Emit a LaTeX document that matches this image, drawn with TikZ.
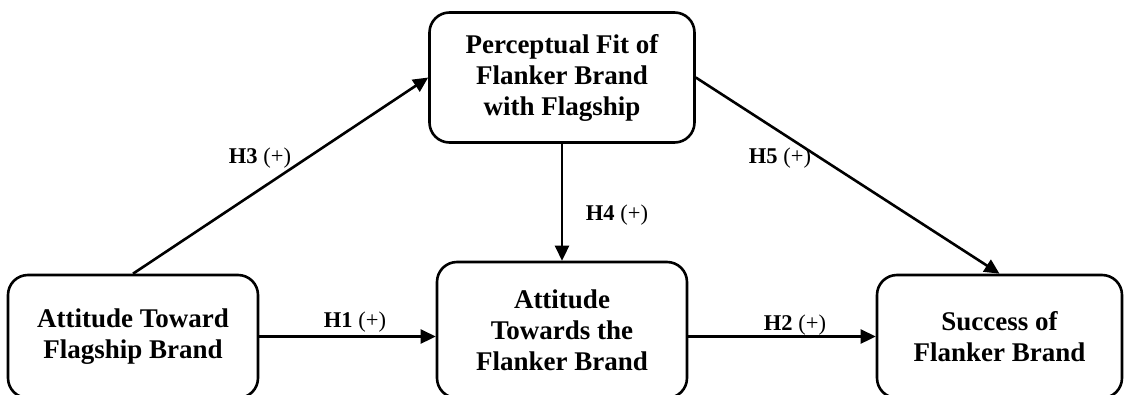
\documentclass[tikz,border=0pt]{standalone}
\usepackage{fontspec}
\setmainfont{Liberation Serif}
\usetikzlibrary{arrows.meta}
\begin{document}
\begin{tikzpicture}[x=1pt,y=-1pt,
  box/.style={draw,line width=2.6pt,rounded corners=20pt,inner sep=0pt,align=center,
    font=\fontsize{27}{31}\selectfont\bfseries},
  link/.style={line width=2.6pt,-{Triangle[length=15pt,width=14pt]}},
  lab/.style={font=\fontsize{22.5}{26}\selectfont,inner sep=0pt}]
\useasboundingbox (0,0) rectangle (1125,394);
\node[box,minimum width=250pt,minimum height=123pt] (L) at (133,336.5) {Attitude Toward\\Flagship Brand};
\node[box,minimum width=250pt,minimum height=136pt] (M) at (562,330) {Attitude\\Towards the\\Flanker Brand};
\node[box,minimum width=265pt,minimum height=130pt] (T) at (562,77.5) {Perceptual Fit of\\Flanker Brand\\with Flagship};
\node[box,minimum width=245pt,minimum height=123pt] (R) at (999.5,336.5) {Success of\\Flanker Brand};
\draw[link] (L.east) -- (L.east -| M.west);
\draw[link] (M.east |- L.east) -- (R.west |- L.east);
\draw[link] (T.south) -- (M.north);
\draw[link] (L.north) -- (T.west);
\draw[link] (T.east) -- (R.north);
\node[lab] (h1) at (355,322) {\textbf{H1} (+)};
\node[lab] (h2) at (795,325) {\textbf{H2} (+)};
\node[lab] (h3) at (260,158) {\textbf{H3} (+)};
\node[lab] (h4) at (617,215) {\textbf{H4} (+)};
\node[lab] (h5) at (780,158) {\textbf{H5} (+)};
\end{tikzpicture}
\end{document}
